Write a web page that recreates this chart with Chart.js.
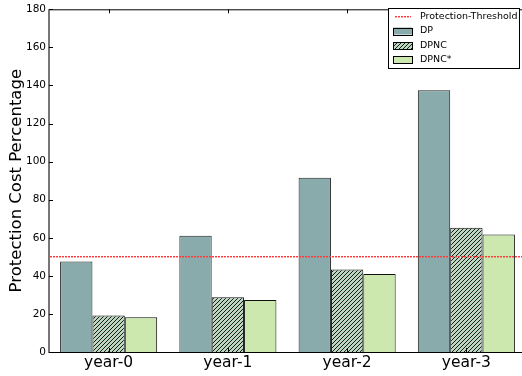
<!DOCTYPE html>
<html>
<head>
<meta charset="utf-8">
<script src="https://cdn.jsdelivr.net/npm/chart.js@4.4.0/dist/chart.umd.min.js"></script>
<style>
html,body{margin:0;padding:0;background:#fff;overflow:hidden;}
#wrap{width:522px;height:376px;overflow:hidden;}
</style>
</head>
<body>
<div id="wrap"><canvas id="c" width="530" height="376"></canvas></div>
<script>
const categories = ["year-0", "year-1", "year-2", "year-3"];
const dpValues = [47.5, 61, 91.5, 137.5];
const dpncValues = [19.2, 28.8, 43.3, 65.3];
const dpncStarValues = [18.2, 27.3, 41.0, 61.7];
const threshold = 50;
const yTicks = [0, 20, 40, 60, 80, 100, 120, 140, 160, 180];
const seriesNames = ["DP", "DPNC", "DPNC*"];
const thresholdName = "Protection-Threshold";

function makeHatch(bg) {
  const s = 8;
  const c = document.createElement('canvas');
  c.width = s; c.height = s;
  const g = c.getContext('2d');
  g.fillStyle = bg; g.fillRect(0, 0, s, s);
  g.strokeStyle = '#1a1a1a'; g.lineWidth = 1;
  for (let k = -s; k <= s; k += 4) {
    g.beginPath(); g.moveTo(k, s); g.lineTo(k + s, 0); g.stroke();
  }
  return g.createPattern(c, 'repeat');
}
const hatch = makeHatch('#bcd7c0');

const FONT = "'DejaVu Sans', sans-serif";

function dottedH(ctx, x0, x1, yy) {
  for (let px = Math.round(x0); px < x1; px += 3) {
    const w = Math.min(2, x1 - px);
    ctx.fillStyle = 'rgb(255,60,60)';
    ctx.fillRect(px, yy, w, 1);
    ctx.fillStyle = 'rgba(255,60,60,0.45)';
    ctx.fillRect(px, yy + 1, w, 1);
  }
}

const extras = {
  id: 'extras',
  afterDatasetsDraw(chart) {
    const ctx = chart.ctx, a = chart.chartArea;
    const y = chart.scales.y, x = chart.scales.x;
    ctx.save();
    // frame
    ctx.strokeStyle = '#000';
    ctx.lineWidth = 1;
    ctx.beginPath(); ctx.moveTo(a.left, a.top + 0.5); ctx.lineTo(a.right, a.top + 0.5); ctx.stroke();
    ctx.beginPath(); ctx.moveTo(a.left, a.bottom + 0.5); ctx.lineTo(a.right, a.bottom + 0.5); ctx.stroke();
    ctx.beginPath(); ctx.moveTo(a.right - 0.5, a.top); ctx.lineTo(a.right - 0.5, a.bottom); ctx.stroke();
    ctx.strokeStyle = '#555';
    ctx.lineWidth = 1.6;
    ctx.beginPath(); ctx.moveTo(a.left, a.top); ctx.lineTo(a.left, a.bottom + 1); ctx.stroke();
    // inward ticks
    ctx.strokeStyle = '#000'; ctx.lineWidth = 1;
    yTicks.forEach(v => {
      const py = Math.round(y.getPixelForValue(v)) + 0.5;
      ctx.beginPath(); ctx.moveTo(a.left, py); ctx.lineTo(a.left + 4, py); ctx.stroke();
    });
    categories.forEach((c, i) => {
      const px = Math.round(x.getPixelForValue(i)) + 0.5;
      ctx.beginPath(); ctx.moveTo(px, a.top); ctx.lineTo(px, a.top + 4); ctx.stroke();
      ctx.beginPath(); ctx.moveTo(px, a.bottom); ctx.lineTo(px, a.bottom - 4); ctx.stroke();
    });
    // threshold line (drawn over bars)
    const ty = Math.round(y.getPixelForValue(threshold)) - 1;
    dottedH(ctx, a.left + 1, a.right, ty);
    // legend
    const lx = 388.5, ly = 8.5, lw = 131, lh = 60;
    ctx.fillStyle = '#fff'; ctx.fillRect(lx, ly, lw, lh);
    ctx.strokeStyle = '#000'; ctx.lineWidth = 1; ctx.strokeRect(lx, ly, lw, lh);
    ctx.font = "9.5px " + FONT;
    ctx.textBaseline = 'middle'; ctx.textAlign = 'left';
    const rows = [16.5, 31, 45.5, 59.5];
    dottedH(ctx, 395, 411, 16);
    ctx.fillStyle = '#000';
    ctx.fillText(thresholdName, 420, rows[0]);
    chart.data.datasets.forEach((ds, i) => {
      const ry = rows[i + 1];
      ctx.fillStyle = ds.backgroundColor;
      ctx.fillRect(393, ry - 3.5, 19, 7);
      ctx.strokeStyle = '#000';
      ctx.strokeRect(393.5, Math.round(ry - 3.5) + 0.5, 19, 7);
      ctx.fillStyle = '#000';
      ctx.fillText(ds.label, 420, ry);
    });
    ctx.restore();
  }
};

new Chart(document.getElementById('c'), {
  type: 'bar',
  data: {
    labels: categories,
    datasets: [
      { label: seriesNames[0], data: dpValues, backgroundColor: '#8aabab', borderColor: '#222', borderWidth: 1 },
      { label: seriesNames[1], data: dpncValues, backgroundColor: hatch, borderColor: '#111', borderWidth: 1 },
      { label: seriesNames[2], data: dpncStarValues, backgroundColor: '#cde8ae', borderColor: '#111', borderWidth: 1 }
    ]
  },
  options: {
    responsive: false,
    animation: false,
    devicePixelRatio: 1,
    layout: { padding: { top: 5, right: 4, left: 0, bottom: 0 } },
    plugins: { legend: { display: false }, tooltip: { enabled: false } },
    datasets: { bar: { categoryPercentage: 0.814, barPercentage: 1.0 } },
    scales: {
      x: {
        grid: { display: false, drawTicks: false },
        border: { display: false },
        ticks: { font: { family: FONT, size: 15.5 }, color: '#000', padding: 2 },
        afterFit(s) { s.height = 24; }
      },
      y: {
        min: 0, max: 180,
        afterBuildTicks(s) { s.ticks = yTicks.map(v => ({ value: v })); },
        grid: { display: false, drawTicks: false },
        border: { display: false },
        ticks: { font: { family: FONT, size: 10.5 }, color: '#000', padding: 3 },
        title: { display: true, text: 'Protection Cost Percentage', font: { family: FONT, size: 16.5 }, color: '#000', padding: { top: 7, bottom: 0 } },
        afterFit(s) { s.width = 49; }
      }
    }
  },
  plugins: [extras]
});
</script>
</body>
</html>
